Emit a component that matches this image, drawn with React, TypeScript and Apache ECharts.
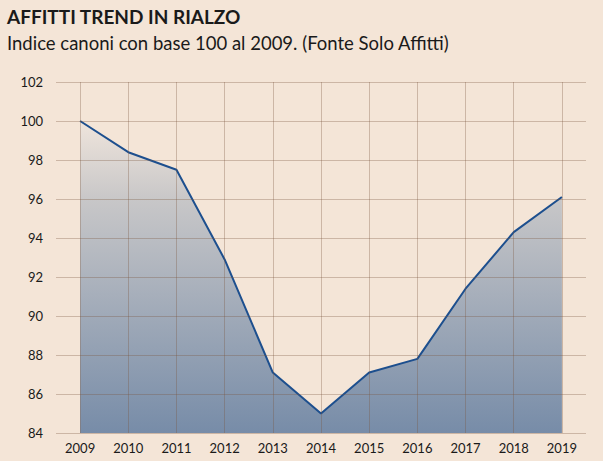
import React, { useEffect, useRef } from "react";
import * as echarts from "echarts";

const years = ["2009", "2010", "2011", "2012", "2013", "2014", "2015", "2016", "2017", "2018", "2019"];
const indexValues = [100, 98.4, 97.5, 92.9, 87.1, 85.0, 87.1, 87.8, 91.4, 94.3, 96.1];
const titleText = "AFFITTI TREND IN RIALZO";
const subtitleText = "Indice canoni con base 100 al 2009. (Fonte Solo Affitti)";

export default function App() {
  const ref = useRef<HTMLDivElement>(null);
  useEffect(() => {
    if (!ref.current) return;
    const chart = echarts.init(ref.current, undefined, { renderer: "svg" });
    const gridColor = "rgba(120,85,60,0.32)";
    chart.setOption({
      animation: false,
      backgroundColor: "#f4e5d7",
      title: {
        left: 2,
        top: 2,
        text: titleText,
        subtext: subtitleText,
        itemGap: 7,
        textStyle: { fontFamily: "Lato", fontSize: 19, fontWeight: "bold", color: "#1a1a1a" },
        subtextStyle: { fontFamily: "Lato", fontSize: 18.5, color: "#1a1a1a" },
      },
      grid: { left: 56, right: 17, top: 82, bottom: 28 },
      xAxis: {
        type: "category",
        data: years,
        boundaryGap: true,
        axisLine: { show: false },
        axisTick: { show: false },
        splitLine: { show: false },
        axisLabel: { fontFamily: "Lato", fontSize: 13, color: "#1a1a1a", margin: 8 },
      },
      yAxis: {
        type: "value",
        min: 84,
        max: 102,
        interval: 2,
        z: 5,
        axisLine: { show: false },
        axisTick: { show: false },
        splitLine: { show: true, lineStyle: { color: gridColor, width: 1 } },
        axisLabel: { fontFamily: "Lato", fontSize: 13, color: "#1a1a1a", margin: 13 },
      },
      series: [
        {
          type: "line",
          data: indexValues,
          symbol: "none",
          lineStyle: { color: "#1d4f8e", width: 2 },
          areaStyle: {
            origin: "start",
            opacity: 1,
            color: new echarts.graphic.LinearGradient(0, 0, 0, 1, [
              { offset: 0, color: "#efe5dc" },
              { offset: 0.25, color: "#c8c7c8" },
              { offset: 1, color: "#778ca8" },
            ]),
          },
          markLine: {
            silent: true,
            symbol: "none",
            label: { show: false },
            lineStyle: { color: gridColor, type: "solid", width: 1 },
            data: years.map((y) => ({ xAxis: y })),
          },
          z: 3,
        },
      ],
    });
    return () => chart.dispose();
  }, []);
  return <div ref={ref} style={{ width: 603, height: 461, position: "absolute", left: 0, top: 0 }} />;
}
